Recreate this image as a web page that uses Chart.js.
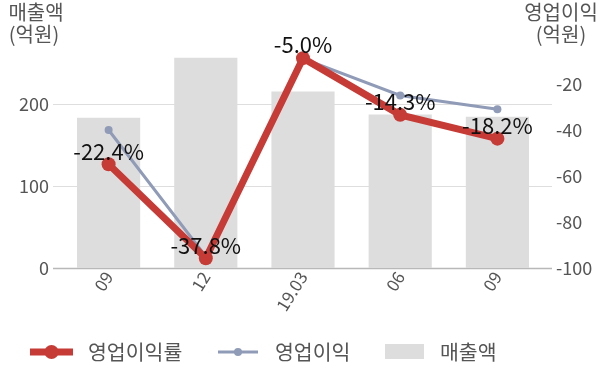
<!DOCTYPE html>
<html>
<head>
<meta charset="utf-8">
<script src="https://cdn.jsdelivr.net/npm/chart.js@4/dist/chart.umd.min.js"></script>
<style>
html, body { margin: 0; padding: 0; background: #fff; }
#wrap { width: 600px; height: 383px; }
</style>
</head>
<body>
<div id="wrap"><canvas id="chart"></canvas></div>
<script>
const periods = ['09', '12', '19.03', '06', '09'];
const sales = [183, 256, 215, 187, 184];          // 매출액 (억원)
const opProfit = [-40, -95, -9, -25, -31];        // 영업이익 (억원)
const opMargin = [-22.4, -37.8, -5.0, -14.3, -18.2]; // 영업이익률 (%)
const salesTicks = [0, 100, 200];
const profitTicks = [-100, -80, -60, -40, -20];

const FONT = "'Noto Sans CJK KR', 'Noto Sans', sans-serif";
const RED = '#c63b36';
const BLUE = '#8f9bb7';
const BAR = '#dddddd';
const TXT = '#555555';

// grid lines of the left axis, a bit wider than the plot
const gridLines = {
    id: 'gridLines',
    beforeDatasetsDraw(chart) {
        const { ctx, chartArea } = chart;
        const y = chart.scales.y;
        ctx.save();
        for (const v of salesTicks) {
            const py = Math.round(y.getPixelForValue(v)) + 0.5;
            ctx.strokeStyle = v === 0 ? '#b8b8b8' : '#dedede';
            ctx.lineWidth = v === 0 ? 1.5 : 1;
            ctx.beginPath();
            ctx.moveTo(chartArea.left - 7, py);
            ctx.lineTo(chartArea.right + 6, py);
            ctx.stroke();
        }
        ctx.restore();
    }
};

// percentage labels above the margin line
const marginLabels = {
    id: 'marginLabels',
    afterDatasetsDraw(chart) {
        const { ctx } = chart;
        const meta = chart.getDatasetMeta(0);
        ctx.save();
        ctx.font = '22px ' + FONT;
        ctx.fillStyle = '#111';
        ctx.textAlign = 'center';
        ctx.textBaseline = 'middle';
        meta.data.forEach((p, i) => {
            ctx.fillText(opMargin[i].toFixed(1) + '%', p.x, p.y - 13);
        });
        ctx.restore();
    }
};

// axis titles and legend
const extras = {
    id: 'extras',
    afterDraw(chart) {
        const { ctx } = chart;
        ctx.save();
        ctx.font = '20px ' + FONT;
        ctx.fillStyle = TXT;
        ctx.textAlign = 'center';
        ctx.textBaseline = 'middle';
        ctx.fillText('매출액', 36, 12);
        ctx.fillText('(억원)', 34, 34);
        ctx.fillText('영업이익', 561, 12);
        ctx.fillText('(억원)', 561, 34);

        const ly = 352;
        // 영업이익률
        ctx.strokeStyle = RED; ctx.lineWidth = 7;
        ctx.beginPath(); ctx.moveTo(30, ly); ctx.lineTo(73, ly); ctx.stroke();
        ctx.fillStyle = RED;
        ctx.beginPath(); ctx.arc(51.5, ly, 7, 0, Math.PI * 2); ctx.fill();
        // 영업이익
        ctx.strokeStyle = BLUE; ctx.lineWidth = 3;
        ctx.beginPath(); ctx.moveTo(218, ly); ctx.lineTo(258, ly); ctx.stroke();
        ctx.fillStyle = BLUE;
        ctx.beginPath(); ctx.arc(238, ly, 4, 0, Math.PI * 2); ctx.fill();
        // 매출액
        ctx.fillStyle = BAR;
        ctx.fillRect(385, 344, 39, 15);

        ctx.font = '20.5px ' + FONT;
        ctx.fillStyle = TXT;
        ctx.textAlign = 'left';
        ctx.fillText('영업이익률', 88, ly);
        ctx.fillText('영업이익', 275, ly);
        ctx.fillText('매출액', 440, ly);
        ctx.restore();
    }
};

new Chart(document.getElementById('chart'), {
    data: {
        labels: periods,
        datasets: [
            {
                type: 'line',
                label: '영업이익률',
                data: opMargin,
                yAxisID: 'y3',
                borderColor: RED,
                backgroundColor: RED,
                borderWidth: 7,
                pointRadius: 7,
                pointBorderWidth: 0,
                tension: 0,
                order: 0
            },
            {
                type: 'line',
                label: '영업이익',
                data: opProfit,
                yAxisID: 'y2',
                borderColor: BLUE,
                backgroundColor: BLUE,
                borderWidth: 3,
                pointRadius: 4,
                pointBorderWidth: 0,
                tension: 0,
                order: 1
            },
            {
                type: 'bar',
                label: '매출액',
                data: sales,
                yAxisID: 'y',
                backgroundColor: BAR,
                categoryPercentage: 1,
                barPercentage: 0.65,
                order: 2
            }
        ]
    },
    options: {
        responsive: true,
        maintainAspectRatio: false,
        animation: false,
        layout: { padding: { top: 38, bottom: 65, left: 0, right: 0 } },
        plugins: {
            legend: { display: false },
            tooltip: { enabled: false }
        },
        scales: {
            x: {
                grid: { display: false },
                border: { display: false },
                ticks: {
                    minRotation: 58, maxRotation: 58,
                    color: TXT, font: { family: FONT, size: 17 }, padding: -8
                },
                afterFit(s) { s.height = 50; }
            },
            y: {
                position: 'left',
                min: 0, max: 280,
                afterBuildTicks(s) { s.ticks = salesTicks.map(v => ({ value: v })); },
                grid: { display: false, drawTicks: false },
                border: { display: false },
                ticks: { color: TXT, font: { family: FONT, size: 18 }, padding: 11 },
                afterFit(s) { s.width = 60; }
            },
            y2: {
                position: 'right',
                min: -100, max: 0,
                afterBuildTicks(s) { s.ticks = profitTicks.map(v => ({ value: v })); },
                grid: { display: false, drawTicks: false },
                border: { display: false },
                ticks: { color: TXT, font: { family: FONT, size: 18 }, padding: 10 },
                afterFit(s) { s.width = 54; }
            },
            y3: {
                display: false,
                min: -39.4, max: -1.7
            }
        }
    },
    plugins: [gridLines, marginLabels, extras]
});
</script>
</body>
</html>
